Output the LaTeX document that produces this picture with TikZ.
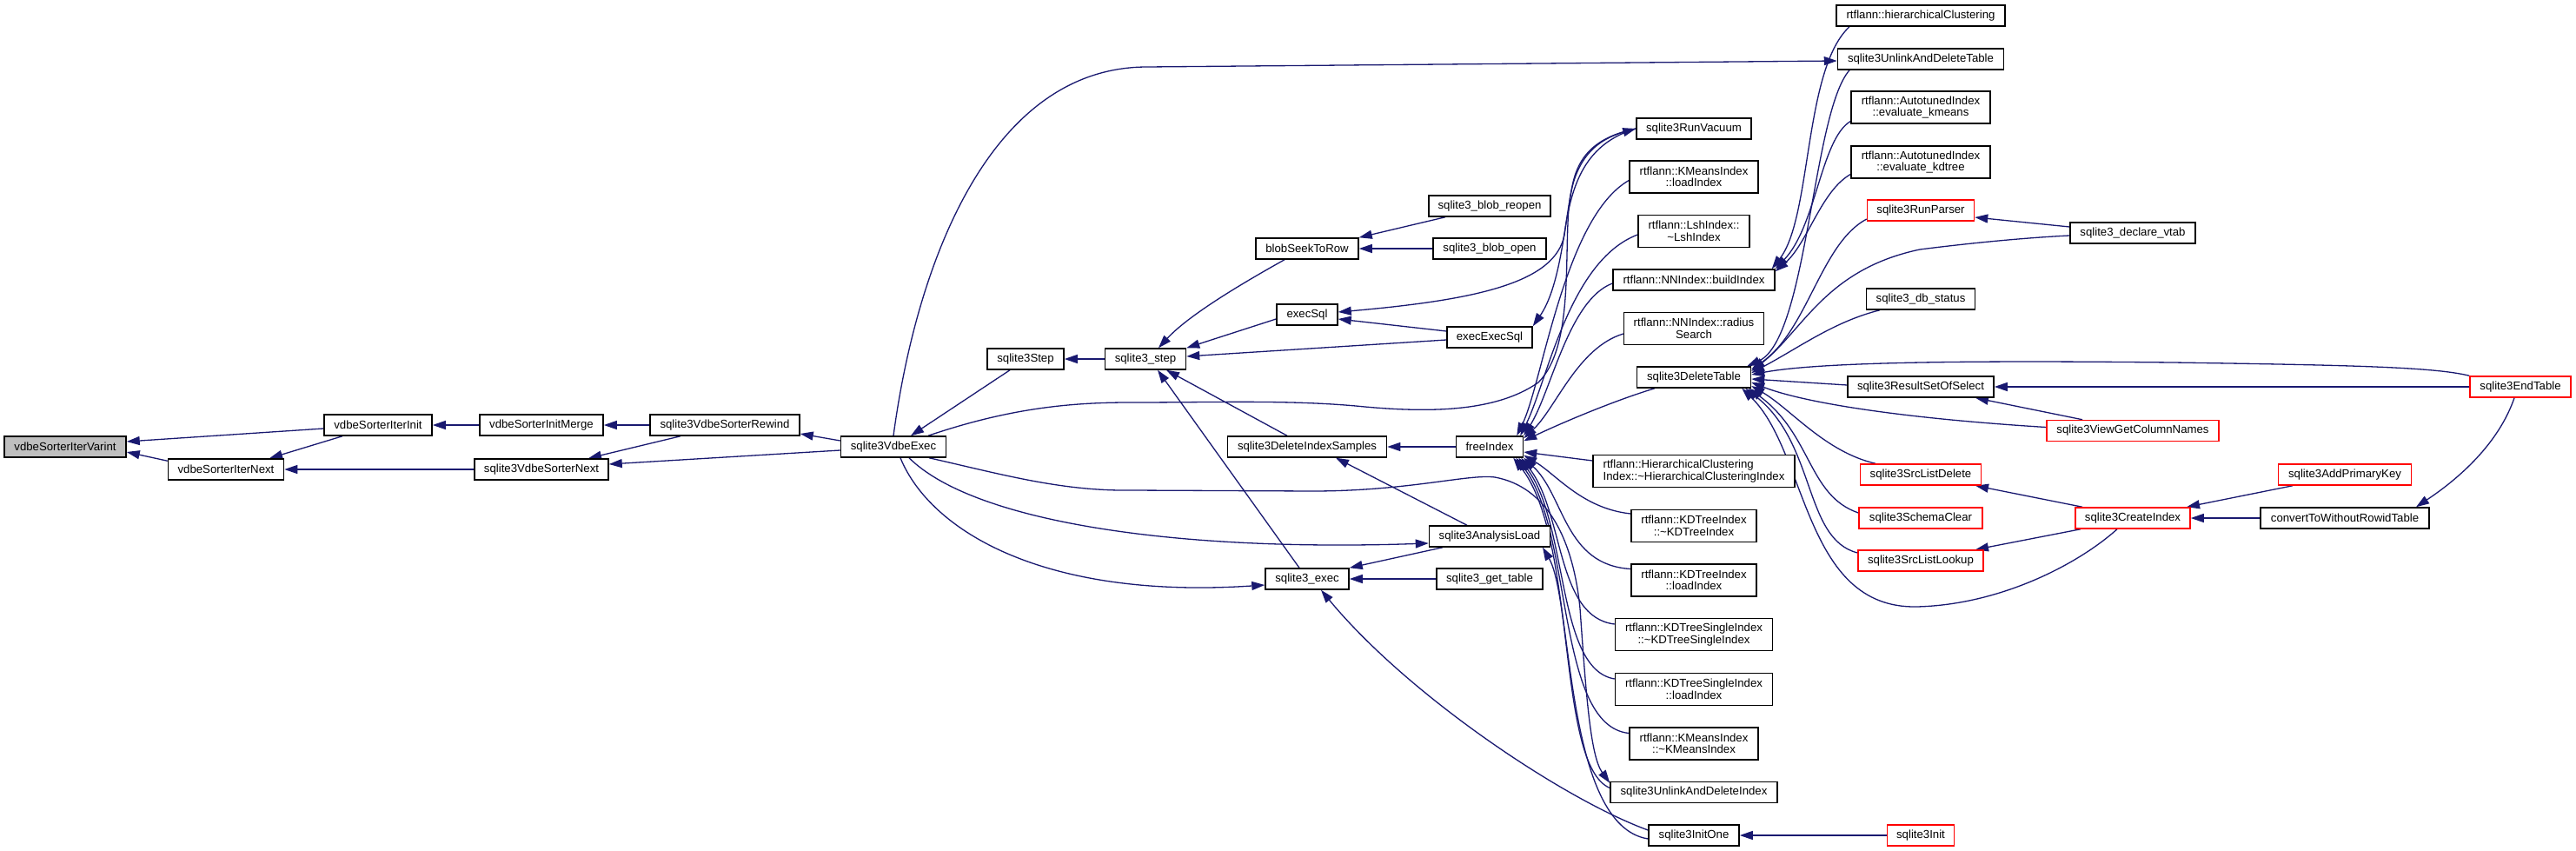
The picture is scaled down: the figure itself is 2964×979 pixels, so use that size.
\documentclass[tikz,border=0pt]{standalone}
\usepackage{fontspec}
\newfontfamily\dxfont{Liberation Sans}
\usetikzlibrary{arrows.meta,backgrounds}
\definecolor{edgeblue}{HTML}{191970}
\definecolor{nodegray}{HTML}{BFBFBF}
\definecolor{nodered}{HTML}{FF0000}
\begin{document}
\begin{tikzpicture}[x=1pt,y=-1pt,
  >={Triangle[length=15pt,width=10pt]},
  fn/.style={draw=black,line width=1.5pt,fill=white,inner sep=0pt,minimum height=24pt,align=center,
    font=\dxfont\fontsize{13.2}{13.5}\selectfont},
  fntwo/.style={fn,minimum height=37pt},
  rd/.style={draw=nodered},
  arr/.style={draw=edgeblue,line width=1.3pt,<-}]
\useasboundingbox (0,0) rectangle (2964,979);
% column 0-4
\node[fn,fill=nodegray,minimum width=140pt] (nVarint) at (75,514) {vdbeSorterIterVarint};
\node[fn,minimum width=124pt] (nIterInit) at (435,489) {vdbeSorterIterInit};
\node[fn,minimum width=133pt] (nIterNext) at (260,540) {vdbeSorterIterNext};
\node[fn,minimum width=142pt] (nInitMerge) at (623,489) {vdbeSorterInitMerge};
\node[fn,minimum width=172pt] (nRewind) at (834,489) {sqlite3VdbeSorterRewind};
\node[fn,minimum width=154pt] (nSorterNext) at (623,540) {sqlite3VdbeSorterNext};
\node[fn,minimum width=121pt] (nVdbeExec) at (1028,514) {sqlite3VdbeExec};
\node[fn,minimum width=88pt] (nStep3) at (1180,413) {sqlite3Step};
\node[fn,minimum width=93pt] (nStep) at (1318,413) {sqlite3\_step};
\node[fn,minimum width=118pt] (nBlobSeek) at (1504,286) {blobSeekToRow};
\node[fn,minimum width=140pt] (nReopen) at (1714,237) {sqlite3\_blob\_reopen};
\node[fn,minimum width=130pt] (nBlobOpen) at (1714,286) {sqlite3\_blob\_open};
\node[fn,minimum width=70pt] (nExecSql) at (1504,362) {execSql};
\node[fn,minimum width=98pt] (nExecExecSql) at (1714,388) {execExecSql};
\node[fn,minimum width=183pt] (nDelIdx) at (1504,514) {sqlite3DeleteIndexSamples};
\node[fn,minimum width=77pt] (nFreeIndex) at (1714,514) {freeIndex};
\node[fn,minimum width=139pt] (nAnalysis) at (1714,617) {sqlite3AnalysisLoad};
\node[fn,minimum width=96pt] (nExec) at (1504,666) {sqlite3\_exec};
\node[fn,minimum width=122pt] (nGetTable) at (1714,666) {sqlite3\_get\_table};
% column 9
\node[fn,minimum width=132pt] (nRunVacuum) at (1949,148) {sqlite3RunVacuum};
\node[fntwo,minimum width=148pt] (nKMLoad) at (1949,203.5) {rtflann::KMeansIndex\\::loadIndex};
\node[fntwo,minimum width=128pt] (nLsh) at (1949,266) {rtflann::LshIndex::\\\textasciitilde LshIndex};
\node[fn,minimum width=186pt] (nBuild) at (1949,322) {rtflann::NNIndex::buildIndex};
\node[fntwo,minimum width=161pt] (nRadius) at (1949,378) {rtflann::NNIndex::radius\\Search};
\node[fn,minimum width=131pt] (nDelTab) at (1949,434) {sqlite3DeleteTable};
\node[fntwo,minimum width=232pt,align=left] (nHCIdx) at (1949,542) {rtflann::HierarchicalClustering\\Index::\textasciitilde HierarchicalClusteringIndex};
\node[fntwo,minimum width=144pt] (nKDDtor) at (1949,605) {rtflann::KDTreeIndex\\::\textasciitilde KDTreeIndex};
\node[fntwo,minimum width=144pt] (nKDLoad) at (1949,667.5) {rtflann::KDTreeIndex\\::loadIndex};
\node[fntwo,minimum width=181pt] (nKDSDtor) at (1949,730) {rtflann::KDTreeSingleIndex\\::\textasciitilde KDTreeSingleIndex};
\node[fntwo,minimum width=181pt] (nKDSLoad) at (1949,793) {rtflann::KDTreeSingleIndex\\::loadIndex};
\node[fntwo,minimum width=148pt] (nKMDtor) at (1949,855.5) {rtflann::KMeansIndex\\::\textasciitilde KMeansIndex};
\node[fn,minimum width=192pt] (nUnlinkIdx) at (1949,911.5) {sqlite3UnlinkAndDeleteIndex};
\node[fn,minimum width=104pt] (nInitOne) at (1949,961) {sqlite3InitOne};
% column 10
\node[fn,minimum width=194pt] (nHClust) at (2210,18) {rtflann::hierarchicalClustering};
\node[fn,minimum width=191pt] (nUnlinkTab) at (2210,68) {sqlite3UnlinkAndDeleteTable};
\node[fntwo,minimum width=160pt] (nEvalKm) at (2210,123.5) {rtflann::AutotunedIndex\\::evaluate\_kmeans};
\node[fntwo,minimum width=160pt] (nEvalKd) at (2210,186.5) {rtflann::AutotunedIndex\\::evaluate\_kdtree};
\node[fn,rd,minimum width=123pt] (nRunParser) at (2210,242) {sqlite3RunParser};
\node[fn,minimum width=125pt] (nDbStatus) at (2210,344) {sqlite3\_db\_status};
\node[fn,minimum width=168pt] (nResultSet) at (2210,445) {sqlite3ResultSetOfSelect};
\node[fn,rd,minimum width=139pt] (nSrcDelete) at (2210,546) {sqlite3SrcListDelete};
\node[fn,rd,minimum width=142pt] (nSchemaClear) at (2210,596) {sqlite3SchemaClear};
\node[fn,rd,minimum width=144pt] (nSrcLookup) at (2210,645) {sqlite3SrcListLookup};
\node[fn,rd,minimum width=77pt] (nInit) at (2210,961) {sqlite3Init};
% columns 11-13
\node[fn,minimum width=144pt] (nDeclVtab) at (2454,268) {sqlite3\_declare\_vtab};
\node[fn,rd,minimum width=198pt] (nViewCols) at (2454,495.5) {sqlite3ViewGetColumnNames};
\node[fn,rd,minimum width=132pt] (nCreateIdx) at (2454,596) {sqlite3CreateIndex};
\node[fn,rd,minimum width=153pt] (nAddPK) at (2698,546) {sqlite3AddPrimaryKey};
\node[fn,minimum width=194pt] (nConvert) at (2698,596) {convertToWithoutRowidTable};
\node[fn,rd,minimum width=116pt] (nEndTable) at (2900,445) {sqlite3EndTable};

\begin{scope}[on background layer]
\fill[white] (0,0) rectangle (2964,979);
% left part
\draw[arr] ([yshift=6pt]nVarint.east) -- ([yshift=-4pt]nIterInit.west);
\draw[arr] ([yshift=-6pt]nVarint.east) -- ([yshift=-3pt]nIterNext.north west);
\draw[arr] ([xshift=50pt]nIterNext.north) -- ([xshift=-41pt]nIterInit.south);
\draw[arr] (nIterInit.east) -- (nInitMerge.west);
\draw[arr] (nInitMerge.east) -- (nRewind.west);
\draw[arr] (nIterNext.east) -- (nSorterNext.west);
\draw[arr] ([xshift=54pt]nSorterNext.north) -- ([xshift=-51pt]nRewind.south);
\draw[arr] ([yshift=-10pt]nRewind.east) -- ([yshift=7pt]nVdbeExec.west);
\draw[arr] ([yshift=6pt]nSorterNext.east) -- ([yshift=-4pt]nVdbeExec.west);
\draw[arr] ([xshift=20pt]nVdbeExec.north) -- ([xshift=-18pt]nStep3.south);
\draw[arr] (nStep3.east) -- (nStep.west);
\draw[arr] ([yshift=-2pt]nUnlinkTab.west) -- (1320,77) .. controls (1140,77) and (1055,300) .. (nVdbeExec.north);
\draw[arr] (nRunVacuum.west) .. controls (1840,160) and (1810,180) .. (1805,240) .. controls (1800,300) and (1810,400) .. (1770,440) .. controls (1720,475) and (1640,475) .. (1560,467) .. controls (1480,460) and (1400,463) .. (1300,463) .. controls (1230,463) and (1160,470) .. ([xshift=40pt]nVdbeExec.north);
\draw[arr] ([yshift=3pt]nExecSql.east) .. controls (1700,345) and (1790,325) .. (1800,270) .. controls (1808,210) and (1825,165) .. (nRunVacuum.west);
\draw[arr] (nExecExecSql.north east) .. controls (1795,330) and (1800,260) .. (1808,220) .. controls (1814,180) and (1835,158) .. (nRunVacuum.west);
\draw[arr] ([xshift=15pt]nStep.north) .. controls (1370,360) and (1440,320) .. ([xshift=-26pt]nBlobSeek.south);
\draw[arr] (nStep.north east) -- ([yshift=-5pt]nExecSql.west);
\draw[arr] ([yshift=3pt]nStep.east) -- ([yshift=-3pt]nExecExecSql.west);
\draw[arr] ([yshift=-5pt]nExecSql.east) -- ([yshift=7pt]nExecExecSql.west);
\draw[arr] (nBlobSeek.north east) -- ([xshift=-51pt]nReopen.south);
\draw[arr] (nBlobSeek.east) -- (nBlobOpen.west);
\draw[arr] ([xshift=24pt]nStep.south) -- ([xshift=-23pt]nDelIdx.north);
\draw[arr] ([xshift=14pt]nStep.south) -- ([xshift=-9pt]nExec.north);
\draw[arr] (nDelIdx.east) -- (nFreeIndex.west);
\draw[arr] ([xshift=33pt]nDelIdx.south) -- ([xshift=-26pt]nAnalysis.north);
\draw[arr] (nExec.north east) -- ([xshift=-54pt]nAnalysis.south);
\draw[arr] (nExec.east) -- (nGetTable.west);
\draw[arr] ([yshift=-7pt]nExec.west) .. controls (1200,690) and (1070,610) .. ([xshift=8pt]nVdbeExec.south);
\draw[arr] ([yshift=-8pt]nAnalysis.west) .. controls (1350,635) and (1120,600) .. ([xshift=18pt]nVdbeExec.south);
\draw[arr] ([yshift=-2pt]nUnlinkIdx.north west) .. controls (1830,870) and (1825,800) .. (1818,700) .. controls (1810,620) and (1780,560) .. (1720,549) .. controls (1690,545) and (1620,565) .. (1510,565) -- (1300,564) .. controls (1220,565) and (1150,545) .. ([xshift=41pt]nVdbeExec.south);
\draw[arr] (nInitOne.east) -- (nInit.west);
\draw[arr] ([xshift=16pt]nExec.south) .. controls (1620,800) and (1800,920) .. ([yshift=6pt]nInitOne.west);
\draw[arr] ([xshift=61pt]nAnalysis.south) .. controls (1810,690) and (1800,950) .. ([yshift=-4pt]nInitOne.west);
% freeIndex callers
\draw[arr] ([xshift=-8pt]nFreeIndex.north east) .. controls (1775,440) and (1800,250) .. ([yshift=-4pt]nKMLoad.west);
\draw[arr] ([xshift=-4pt]nFreeIndex.north east) .. controls (1780,440) and (1805,300) .. ([yshift=-4pt]nLsh.west);
\draw[arr] (nFreeIndex.north east) .. controls (1785,450) and (1805,345) .. ([yshift=-4pt]nBuild.west);
\draw[arr] ([yshift=-3pt]nFreeIndex.north east) .. controls (1790,470) and (1815,400) .. ([yshift=-6pt]nRadius.west);
\draw[arr] ([yshift=-6pt]nFreeIndex.north east) .. controls (1800,485) and (1860,460) .. ([xshift=-45pt]nDelTab.south);
\draw[arr] ([yshift=-6pt]nFreeIndex.east) -- ([yshift=12pt]nHCIdx.west);
\draw[arr] ([yshift=3pt]nFreeIndex.south east) .. controls (1790,545) and (1820,585) .. ([yshift=14pt]nKDDtor.west);
\draw[arr] (nFreeIndex.south east) .. controls (1800,570) and (1800,650) .. ([yshift=13pt]nKDLoad.west);
\draw[arr] ([xshift=-3pt]nFreeIndex.south east) .. controls (1800,590) and (1790,710) .. ([yshift=12pt]nKDSDtor.west);
\draw[arr] ([xshift=-6pt]nFreeIndex.south east) .. controls (1805,600) and (1790,770) .. ([yshift=12pt]nKDSLoad.west);
\draw[arr] ([xshift=-9pt]nFreeIndex.south east) .. controls (1810,610) and (1790,835) .. ([yshift=12pt]nKMDtor.west);
\draw[arr] ([xshift=-12pt]nFreeIndex.south east) .. controls (1815,620) and (1790,880) .. ([yshift=5pt]nUnlinkIdx.west);
% buildIndex callers
\draw[arr] ([xshift=-4pt]nBuild.north east) .. controls (2085,250) and (2075,80) .. ([xshift=-82pt]nHClust.south);
\draw[arr] (nBuild.north east) .. controls (2090,260) and (2095,160) .. ([yshift=-16pt]nEvalKm.west);
\draw[arr] ([yshift=-3pt]nBuild.north east) .. controls (2080,280) and (2095,220) .. ([yshift=-14pt]nEvalKd.west);
% sqlite3DeleteTable callers
\draw[arr] ([xshift=-5pt]nDelTab.north east) .. controls (2080,390) and (2085,130) .. ([xshift=-82pt]nUnlinkTab.south);
\draw[arr] ([yshift=9pt]nDelTab.east) .. controls (2080,380) and (2095,280) .. ([yshift=-10pt]nRunParser.west);
\draw[arr] ([yshift=7pt]nDelTab.east) .. controls (2075,380) and (2100,310) .. (2209,287) .. controls (2280,278) and (2340,273) .. ([yshift=-3pt]nDeclVtab.west);
\draw[arr] ([yshift=-8pt]nRunParser.east) -- ([yshift=7pt]nDeclVtab.west);
\draw[arr] ([yshift=5pt]nDelTab.east) .. controls (2070,400) and (2110,370) .. ([xshift=-47pt]nDbStatus.south);
\draw[arr] ([yshift=3pt]nDelTab.east) .. controls (2100,415) and (2300,415) .. (2500,417) .. controls (2700,420) and (2800,422) .. (nEndTable.north west);
\draw[arr] ([yshift=-2pt]nDelTab.east) -- ([yshift=2pt]nResultSet.west);
\draw[arr] (nResultSet.east) -- (nEndTable.west);
\draw[arr] ([xshift=63pt]nResultSet.south) -- ([xshift=-58pt]nViewCols.north);
\draw[arr] ([yshift=-6pt]nDelTab.east) .. controls (2080,465) and (2200,482) .. ([yshift=4pt]nViewCols.west);
\draw[arr] ([yshift=-10pt]nDelTab.east) .. controls (2060,470) and (2100,520) .. ([xshift=-52pt]nSrcDelete.north);
\draw[arr] ([xshift=-3pt]nDelTab.south east) .. controls (2085,500) and (2080,570) .. ([yshift=6pt]nSchemaClear.west);
\draw[arr] ([xshift=-7pt]nDelTab.south east) .. controls (2090,510) and (2075,620) .. ([yshift=9pt]nSrcLookup.west);
\draw[arr] ([xshift=-11pt]nDelTab.south east) .. controls (2080,520) and (2075,700) .. (2205,698) .. controls (2300,696) and (2390,650) .. ([xshift=-18pt]nCreateIdx.south);
\draw[arr] ([xshift=63pt]nSrcDelete.south) -- ([xshift=-58pt]nCreateIdx.north);
\draw[arr] ([xshift=63pt]nSrcLookup.north) -- ([xshift=-60pt]nCreateIdx.south);
\draw[arr] ([xshift=62pt]nCreateIdx.north) -- ([xshift=-60pt]nAddPK.south);
\draw[arr] (nCreateIdx.east) -- (nConvert.west);
\draw[arr] ([xshift=82pt]nConvert.north) .. controls (2830,550) and (2875,510) .. ([xshift=-7pt]nEndTable.south);
\end{scope}
\end{tikzpicture}
\end{document}
